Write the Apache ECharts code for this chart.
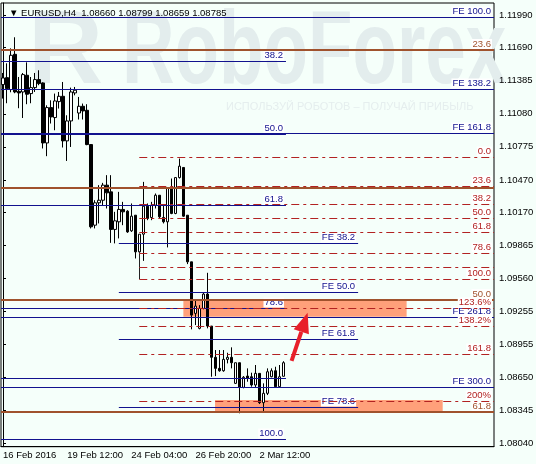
<!DOCTYPE html>
<html>
<head>
<meta charset="utf-8">
<script src="https://cdn.jsdelivr.net/npm/echarts@6.0.0/dist/echarts.min.js"></script>
<style>
  html, body { margin: 0; padding: 0; background: #F5FFFA; }
  #chart { width: 536px; height: 464px; }
</style>
</head>
<body>
<div id="chart"></div>
<script>
// EURUSD H4 candles
const opens = [1.11349, 1.11413, 1.11303, 1.11628, 1.11287, 1.11281, 1.11435, 1.11266, 1.11321, 1.11395,
  1.11364, 1.10811, 1.11137, 1.11045, 1.11192, 1.11241, 1.10830, 1.11014, 1.11272, 1.11087,
  1.11149, 1.11112, 1.10796, 1.10053, 1.10259, 1.10283, 1.10422, 1.10360, 1.10014, 1.10084,
  1.10198, 1.10182, 1.10001, 1.10145, 1.09807, 1.09970, 1.10228, 1.10124, 1.10237, 1.10329,
  1.10124, 1.10084, 1.10391, 1.10161, 1.10492, 1.10585, 1.10145, 1.09715, 1.09240, 1.09102,
  1.09286, 1.09418, 1.09123, 1.08835, 1.08733, 1.08711, 1.08816, 1.08835, 1.08595, 1.08785,
  1.08558, 1.08662, 1.08656, 1.08580, 1.08687, 1.08417, 1.08503, 1.08656, 1.08711, 1.08564,
  1.08660]
const closes = [1.11410, 1.11312, 1.11619, 1.11281, 1.11272, 1.11441, 1.11260, 1.11321, 1.11395, 1.11358,
  1.10811, 1.11137, 1.11051, 1.11198, 1.11241, 1.10830, 1.11014, 1.11281, 1.11297, 1.11149,
  1.11106, 1.10796, 1.10038, 1.10259, 1.10283, 1.10422, 1.10351, 1.10014, 1.10093, 1.10198,
  1.10176, 1.09991, 1.10136, 1.09807, 1.09970, 1.10228, 1.10115, 1.10237, 1.10329, 1.10130,
  1.10084, 1.10391, 1.10161, 1.10492, 1.10597, 1.10136, 1.09715, 1.09224, 1.09307, 1.09286,
  1.09418, 1.09123, 1.08835, 1.08733, 1.08711, 1.08816, 1.08835, 1.08785, 1.08785, 1.08558,
  1.08651, 1.08641, 1.08580, 1.08687, 1.08417, 1.08503, 1.08702, 1.08711, 1.08564, 1.08656,
  1.08785]
const lows = [1.11220, 1.11177, 1.11278, 1.11269, 1.11131, 1.11041, 1.11168, 1.11177, 1.11281, 1.11343,
  1.10760, 1.10689, 1.10990, 1.10928, 1.11128, 1.10769, 1.10645, 1.10774, 1.11250, 1.11027,
  1.11027, 1.10790, 1.10023, 1.10023, 1.10069, 1.10237, 1.10207, 1.09890, 1.09885, 1.09931,
  1.10053, 1.09982, 1.09991, 1.09746, 1.09724, 1.09724, 1.10099, 1.10099, 1.10207, 1.10115,
  1.10069, 1.09848, 1.10154, 1.10154, 1.10483, 1.10130, 1.09694, 1.09093, 1.09132, 1.09093,
  1.09277, 1.09102, 1.08656, 1.08662, 1.08702, 1.08702, 1.08779, 1.08733, 1.08589, 1.08319,
  1.08549, 1.08610, 1.08564, 1.08558, 1.08405, 1.08334, 1.08487, 1.08651, 1.08558, 1.08558,
  1.08659]
const highs = [1.11456, 1.11545, 1.11683, 1.11785, 1.11419, 1.11456, 1.11554, 1.11419, 1.11456, 1.11481,
  1.11370, 1.11158, 1.11204, 1.11266, 1.11281, 1.11373, 1.11066, 1.11321, 1.11327, 1.11235,
  1.11174, 1.11168, 1.10799, 1.10283, 1.10422, 1.10443, 1.10514, 1.10514, 1.10176, 1.10360,
  1.10268, 1.10191, 1.10253, 1.10145, 1.09970, 1.10452, 1.10253, 1.10268, 1.10345, 1.10329,
  1.10247, 1.10391, 1.10483, 1.10495, 1.10667, 1.10587, 1.10145, 1.09715, 1.09362, 1.09316,
  1.09430, 1.09614, 1.09123, 1.08902, 1.08902, 1.08902, 1.08877, 1.08927, 1.08785, 1.08785,
  1.08662, 1.08733, 1.08693, 1.08764, 1.08687, 1.08595, 1.08733, 1.08733, 1.08748, 1.08764,
  1.08799]

// time axis: one slot per H4 bar, incl. empty space to the right
const barSlots = 123
const barsPerTick = 16
const xTickLabels = ['16 Feb 2016', '19 Feb 12:00', '24 Feb 04:00', '26 Feb 20:00', '2 Mar 12:00']
const yTickValues = [1.11990, 1.11690, 1.11385, 1.11080, 1.10775, 1.10470, 1.10170,
  1.09865, 1.09560, 1.09255, 1.08955, 1.08650, 1.08345, 1.08040]

// Fibo expansion (navy, full width)
const feLevels = [1.11972, 1.11310, 1.10907, 1.09203, 1.08558]
const feLabels = ['FE 100.0', 'FE 138.2', 'FE 161.8', 'FE 261.8', 'FE 300.0']
// second Fibo expansion (navy, short)
const fe2Levels = [1.09885, 1.09439, 1.09000, 1.08374]
const fe2Labels = ['FE 38.2', 'FE 50.0', 'FE 61.8', 'FE 78.6']
// navy retracement
const navyLevels = [1.11566, 1.10897, 1.10237, 1.09291, 1.08641, 1.08078]
const navyLabels = ['38.2', '50.0', '61.8', '78.6', '', '100.0']
// red dash-dot retracement
const redLevels = [1.10682, 1.10414, 1.10248, 1.10116, 1.09986, 1.09795, 1.09671, 1.09556,
  1.09288, 1.09128, 1.08862, 1.08432]
const redLabels = ['0.0', '23.6', '38.2', '50.0', '61.8', '78.6', '', '100.0',
  '123.6%', '138.2%', '161.8', '200%']
// brown retracement
const brownLevels = [1.11665, 1.10399, 1.09367, 1.08334]
const brownLabels = ['23.6', '', '50.0', '61.8']

// target zones [fromBar, toBar, top, bottom]
const zones = [[45.0, 100.7, 1.09369, 1.09209], [52.9, 109.7, 1.08441, 1.08331]]
const fiboTrend = [34, 1.09807, 34, 1.09556]
const arrow = [72.0, 1.08802, 76.0, 1.09245]

const bg = '#F5FFFA'
const font = 'Liberation Sans'
const navy = '#12128E'
const red = '#B22222'
const brown = '#A0522D'
const watermark = '#E3EDED'

const categories = Array.from({ length: barSlots }, (_, i) => i)
const candles = opens.map((o, i) => [o, closes[i], lows[i], highs[i]])
const last = candles.length - 1
const lastClose = closes[last]

// horizontal levels from bar x0 to x1, label at the right end
const levelSeries = (prices, labels, x0, x1, color, width, dash, z) => ({
  type: 'custom',
  xAxisIndex: 1,
  yAxisIndex: 0,
  silent: true,
  z: z,
  encode: { x: [0, 1], y: 2 },
  data: prices.map((p, i) => [x0, x1, p, i]),
  renderItem: (params, api) => {
    const a = api.coord([api.value(0), api.value(2)])
    const b = api.coord([api.value(1), api.value(2)])
    const y = Math.round(a[1]) + (width % 2 ? 0.5 : 0)
    const children = [{
      type: 'line',
      shape: { x1: a[0], y1: y, x2: b[0], y2: y },
      style: { stroke: color, lineWidth: width, lineDash: dash }
    }]
    const text = labels[api.value(3)]
    if (text) {
      children.push({
        type: 'text',
        x: b[0] - 2,
        y: y - 1,
        style: {
          text: text, fill: color, fontSize: 9.5, fontFamily: font,
          align: 'right', verticalAlign: 'bottom',
          backgroundColor: '#FFFFFF', padding: [0, 1, 0, 1]
        }
      })
    }
    return { type: 'group', children }
  }
})

const chart = echarts.init(document.getElementById('chart'), null, { renderer: 'canvas' })

chart.setOption({
  animation: false,
  backgroundColor: bg,
  title: {
    text: '▼ EURUSD,H4  ' + [opens[last], highs[last], lows[last], closes[last]].map(v => v.toFixed(5)).join(' '),
    left: 4,
    top: 3,
    textStyle: { color: '#000', fontSize: 9.5, fontWeight: 'normal', fontFamily: font }
  },
  graphic: [
    { type: 'text', x: 28, y: 2, z: 0, silent: true,
      style: { text: 'R', fontSize: 104, fontWeight: 'bold', fontFamily: font, fill: watermark } },
    { type: 'text', x: 122, y: 2, z: 0, scaleX: 0.7, silent: true,
      style: { text: 'RoboForex', fontSize: 104, fontWeight: 'bold', fontFamily: font, fill: watermark } },
    { type: 'text', x: 226, y: 101, z: 0, silent: true,
      style: { text: 'ИСПОЛЬЗУЙ РОБОТОВ – ПОЛУЧАЙ ПРИБЫЛЬ', fontSize: 11, fontFamily: font, fill: '#E5EEEE' } }
  ],
  grid: {
    left: 1,
    right: 42,
    top: 3,
    bottom: 17.3,
    show: true,
    borderColor: '#000',
    borderWidth: 1,
    outerBoundsMode: 'none'
  },
  xAxis: [
    {
      type: 'category',
      data: categories,
      boundaryGap: true,
      axisLine: { lineStyle: { color: '#000' } },
      axisTick: {
        alignWithLabel: true,
        length: 3,
        interval: i => i % barsPerTick === 0 && i / barsPerTick < xTickLabels.length,
        lineStyle: { color: '#000' }
      },
      axisLabel: {
        interval: i => i % barsPerTick === 0 && i / barsPerTick < xTickLabels.length,
        formatter: v => xTickLabels[Number(v) / barsPerTick] || '',
        align: 'left',
        margin: 4,
        color: '#000',
        fontSize: 9.5,
        fontFamily: font
      },
      splitLine: { show: false }
    },
    {
      type: 'value',
      min: -0.5,
      max: barSlots - 0.5,
      show: false
    }
  ],
  yAxis: {
    type: 'value',
    position: 'right',
    min: 1.08011,
    max: 1.12101,
    axisLine: { show: true, lineStyle: { color: '#000' } },
    axisTick: { show: true, length: 3, customValues: yTickValues, lineStyle: { color: '#000' } },
    axisLabel: {
      customValues: yTickValues,
      formatter: v => v.toFixed(5),
      margin: 5,
      color: '#000',
      fontSize: 9.5,
      fontFamily: font
    },
    splitLine: { show: false }
  },
  series: [
    {
      // salmon target zones
      type: 'custom',
      xAxisIndex: 1,
      yAxisIndex: 0,
      silent: true,
      z: 1,
      encode: { x: [0, 1], y: [2, 3] },
      data: zones,
      renderItem: (params, api) => {
        const a = api.coord([api.value(0), api.value(2)])
        const b = api.coord([api.value(1), api.value(3)])
        return {
          type: 'rect',
          shape: { x: a[0], y: a[1], width: b[0] - a[0], height: b[1] - a[1] },
          style: { fill: '#FFA07A' }
        }
      }
    },
    {
      type: 'candlestick',
      z: 3,
      barWidth: 3,
      data: candles,
      itemStyle: {
        color: '#FFFFFF',
        color0: '#000000',
        borderColor: '#000000',
        borderColor0: '#000000',
        borderWidth: 1
      },
      markLine: {
        silent: true,
        symbol: ['none', 'none'],
        lineStyle: { opacity: 0 },
        label: {
          position: 'end',
          distance: 1,
          formatter: () => lastClose.toFixed(5),
          color: '#fff',
          backgroundColor: '#000',
          padding: [1, 4, 1, 4],
          fontSize: 9.5,
          fontFamily: font
        },
        data: [{ yAxis: lastClose }]
      }
    },
    levelSeries(navyLevels, navyLabels, -0.5, 70.6, navy, 1, null, 4),
    levelSeries(fe2Levels, fe2Labels, 28.9, 88.6, navy, 1, null, 4),
    levelSeries(feLevels, feLabels, -0.5, barSlots - 0.5, navy, 1, null, 4),
    levelSeries(brownLevels, brownLabels, -0.5, barSlots - 0.5, brown, 2, null, 4),
    levelSeries(redLevels, redLabels, 34.0, barSlots - 0.5, red, 1, [8, 4, 3, 4], 5),
    {
      // fibo anchor line
      type: 'custom',
      xAxisIndex: 1,
      yAxisIndex: 0,
      silent: true,
      z: 4,
      encode: { x: [0, 2], y: [1, 3] },
      data: [fiboTrend],
      renderItem: (params, api) => {
        const a = api.coord([api.value(0), api.value(1)])
        const b = api.coord([api.value(2), api.value(3)])
        return {
          type: 'line',
          shape: { x1: Math.round(a[0]) + 0.5, y1: a[1], x2: Math.round(b[0]) + 0.5, y2: b[1] },
          style: { stroke: '#222', lineWidth: 1 }
        }
      }
    },
    {
      // red arrow
      type: 'custom',
      xAxisIndex: 1,
      yAxisIndex: 0,
      silent: true,
      z: 6,
      encode: { x: [0, 2], y: [1, 3] },
      data: [arrow],
      renderItem: (params, api) => {
        const p0 = api.coord([api.value(0), api.value(1)])
        const p1 = api.coord([api.value(2), api.value(3)])
        const dx = p1[0] - p0[0]
        const dy = p1[1] - p0[1]
        const len = Math.hypot(dx, dy)
        const ux = dx / len
        const uy = dy / len
        const headLen = 20
        const headHalf = 8
        const base = [p1[0] - ux * headLen, p1[1] - uy * headLen]
        return {
          type: 'group',
          children: [
            {
              type: 'line',
              shape: { x1: p0[0], y1: p0[1], x2: base[0], y2: base[1] },
              style: { stroke: '#E8202A', lineWidth: 4 }
            },
            {
              type: 'polygon',
              shape: {
                points: [p1,
                  [base[0] - uy * headHalf, base[1] + ux * headHalf],
                  [base[0] + uy * headHalf, base[1] - ux * headHalf]]
              },
              style: { fill: '#E8202A' }
            }
          ]
        }
      }
    }
  ]
})

window.addEventListener('resize', () => chart.resize())
</script>
</body>
</html>
